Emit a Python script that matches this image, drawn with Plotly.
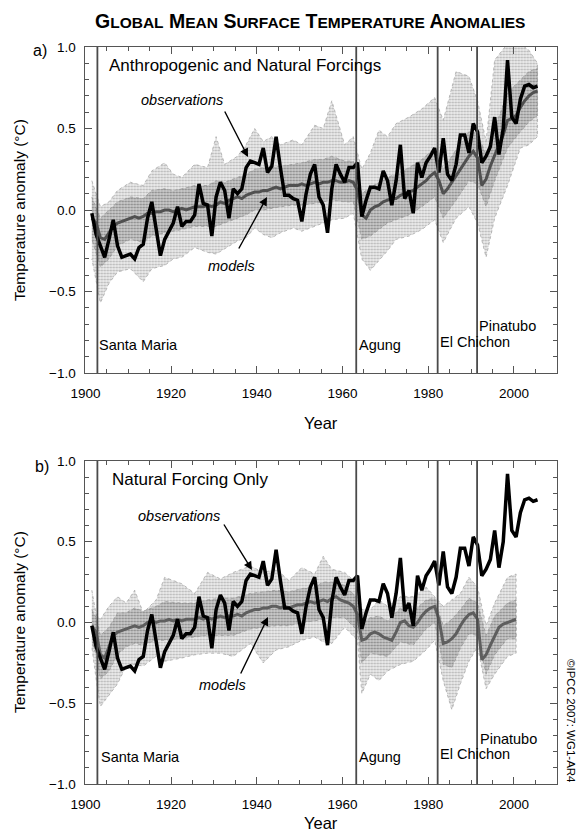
import plotly.graph_objects as go

W, H = 582, 832

# ---------------- data ----------------
obs_years = list(range(1901, 2006))
obs = [-0.02, -0.15, -0.22, -0.29, -0.18, -0.06, -0.22, -0.29, -0.28, -0.27,
       -0.30, -0.23, -0.21, -0.05, 0.05, -0.12, -0.28, -0.18, -0.13, -0.08,
       0.02, -0.10, -0.07, -0.07, -0.03, 0.16, 0.04, 0.03, -0.16, 0.08,
       0.17, 0.12, -0.05, 0.13, 0.10, 0.13, 0.26, 0.30, 0.29, 0.28,
       0.38, 0.23, 0.27, 0.45, 0.26, 0.09, 0.09, 0.07, 0.06, -0.07,
       0.10, 0.22, 0.28, 0.08, 0.03, -0.14, 0.13, 0.28, 0.22, 0.17,
       0.26, 0.26, 0.29, -0.04, 0.06, 0.14, 0.14, 0.13, 0.24, 0.18,
       0.03, 0.18, 0.40, 0.07, 0.12, -0.02, 0.29, 0.20, 0.29, 0.33,
       0.38, 0.23, 0.44, 0.22, 0.18, 0.28, 0.46, 0.46, 0.35, 0.53,
       0.48, 0.29, 0.33, 0.39, 0.57, 0.34, 0.50, 0.92, 0.57, 0.53,
       0.68, 0.76, 0.77, 0.75, 0.76]

all_years = list(range(1901, 2006))
all_mean = [-0.05, -0.08, -0.17, -0.18, -0.14, -0.10, -0.08, -0.07, -0.06, -0.05,
            -0.04, -0.05, -0.04, -0.02, -0.02, -0.01, -0.01, 0.00, 0.00, -0.01,
            0.00, 0.01, 0.00, 0.01, 0.02, 0.02, 0.02, 0.03, 0.02, 0.03,
            0.05, 0.04, 0.06, 0.07, 0.08, 0.07, 0.09, 0.10, 0.11, 0.11,
            0.12, 0.12, 0.13, 0.14, 0.13, 0.14, 0.15, 0.15, 0.15, 0.16,
            0.15, 0.16, 0.17, 0.16, 0.17, 0.17, 0.18, 0.18, 0.17, 0.17,
            0.18, 0.17, 0.12, -0.03, -0.05, 0.00, 0.02, 0.03, 0.05, 0.06,
            0.07, 0.07, 0.09, 0.10, 0.11, 0.12, 0.14, 0.16, 0.18, 0.21,
            0.23, 0.18, 0.10, 0.13, 0.17, 0.21, 0.25, 0.29, 0.33, 0.36,
            0.32, 0.15, 0.19, 0.27, 0.34, 0.40, 0.46, 0.55, 0.56, 0.58,
            0.63, 0.67, 0.70, 0.72, 0.73]

all_env_years = [1901, 1903, 1905, 1907, 1910, 1913, 1915, 1918, 1920, 1922,
                 1925, 1928, 1930, 1932, 1935, 1937, 1939, 1941, 1943, 1945,
                 1948, 1950, 1953, 1955, 1957, 1960, 1962, 1964, 1966, 1968,
                 1970, 1972, 1975, 1978, 1981, 1983, 1986, 1989, 1991, 1993,
                 1995, 1998, 2001, 2003, 2005]
all_upper = [0.18, 0.02, 0.05, 0.12, 0.17, 0.15, 0.24, 0.29, 0.22, 0.20,
             0.28, 0.26, 0.45, 0.28, 0.33, 0.40, 0.50, 0.42, 0.45, 0.40,
             0.43, 0.40, 0.52, 0.50, 0.67, 0.40, 0.45, 0.25, 0.35, 0.49,
             0.45, 0.53, 0.57, 0.62, 0.69, 0.55, 0.85, 0.82, 0.67, 0.42,
             0.92, 1.02, 1.02, 0.98, 0.90]
all_lower = [-0.30, -0.57, -0.45, -0.38, -0.36, -0.44, -0.36, -0.34, -0.30, -0.29,
             -0.23, -0.26, -0.27, -0.24, -0.19, -0.17, -0.11, -0.15, -0.17, -0.14,
             -0.11, -0.13, -0.10, -0.08, -0.06, -0.05, -0.02, -0.30, -0.37, -0.31,
             -0.25, -0.18, -0.16, -0.12, -0.06, -0.20, -0.05, 0.02, -0.08, -0.29,
             -0.05, 0.15, 0.38, 0.40, 0.45]
all_core_upper = [0.08, -0.05, 0.00, 0.05, 0.08, 0.07, 0.12, 0.13, 0.12, 0.13,
                  0.15, 0.15, 0.18, 0.17, 0.20, 0.22, 0.25, 0.26, 0.26, 0.27,
                  0.28, 0.29, 0.31, 0.31, 0.33, 0.30, 0.30, 0.10, 0.14, 0.17,
                  0.20, 0.22, 0.26, 0.31, 0.38, 0.25, 0.37, 0.48, 0.47, 0.34,
                  0.50, 0.72, 0.80, 0.85, 0.87]
all_core_lower = [-0.18, -0.35, -0.30, -0.22, -0.18, -0.20, -0.16, -0.14, -0.13, -0.12,
                  -0.10, -0.10, -0.10, -0.08, -0.05, -0.03, 0.00, 0.00, 0.01, 0.02,
                  0.03, 0.03, 0.04, 0.05, 0.06, 0.05, 0.05, -0.18, -0.16, -0.12,
                  -0.08, -0.06, -0.03, 0.02, 0.08, -0.05, 0.06, 0.18, 0.16, 0.02,
                  0.18, 0.38, 0.48, 0.54, 0.58]

nat_years = list(range(1901, 2001))
nat_mean = [-0.02, -0.06, -0.20, -0.22, -0.15, -0.08, -0.06, -0.05, -0.04, -0.03,
            -0.02, -0.03, -0.02, 0.00, 0.01, 0.00, 0.01, 0.01, 0.02, 0.01,
            0.02, 0.01, 0.02, 0.02, 0.02, 0.03, 0.02, 0.03, 0.02, 0.03,
            0.04, 0.03, 0.04, 0.04, 0.05, 0.04, 0.06, 0.07, 0.08, 0.08,
            0.09, 0.09, 0.10, 0.10, 0.09, 0.10, 0.09, 0.10, 0.11, 0.11,
            0.12, 0.13, 0.12, 0.13, 0.14, 0.13, 0.15, 0.16, 0.14, 0.13,
            0.12, 0.10, 0.05, -0.11, -0.10, -0.07, -0.06, -0.07, -0.09, -0.10,
            -0.11, -0.06, 0.00, 0.01, -0.02, -0.03, 0.00, 0.04, 0.07, 0.09,
            0.10, 0.02, -0.13, -0.12, -0.10, -0.07, -0.02, 0.02, 0.05, 0.06,
            0.02, -0.23, -0.20, -0.14, -0.08, -0.03, -0.01, 0.00, 0.01, 0.02]

nat_env_years = [1901, 1902, 1903, 1905, 1907, 1909, 1911, 1913, 1916, 1918,
                 1922, 1925, 1928, 1931, 1934, 1938, 1941, 1944, 1947, 1950,
                 1953, 1955, 1957, 1960, 1963, 1964, 1966, 1968, 1970, 1973,
                 1976, 1979, 1981, 1983, 1985, 1987, 1989, 1991, 1993, 1995,
                 1998, 2000]
nat_upper = [0.20, 0.05, 0.02, 0.10, 0.16, 0.12, 0.20, 0.06, 0.14, 0.28,
             0.24, 0.18, 0.31, 0.27, 0.31, 0.35, 0.31, 0.33, 0.26, 0.34,
             0.30, 0.41, 0.33, 0.31, 0.24, 0.08, 0.08, 0.14, 0.10, 0.16,
             0.16, 0.22, 0.16, 0.10, 0.14, 0.18, 0.28, 0.22, -0.02, 0.12,
             0.28, 0.30]
nat_lower = [-0.15, -0.35, -0.52, -0.45, -0.38, -0.27, -0.26, -0.27, -0.21, -0.24,
             -0.22, -0.20, -0.19, -0.19, -0.21, -0.13, -0.25, -0.17, -0.15, -0.11,
             -0.09, -0.12, -0.13, -0.03, -0.11, -0.44, -0.32, -0.36, -0.30, -0.26,
             -0.24, -0.17, -0.11, -0.36, -0.54, -0.38, -0.24, -0.15, -0.41, -0.32,
             -0.21, -0.19]
nat_core_upper = [0.08, 0.03, -0.08, -0.03, 0.06, 0.06, 0.09, 0.07, 0.10, 0.13,
                  0.12, 0.12, 0.14, 0.15, 0.15, 0.18, 0.19, 0.20, 0.19, 0.21,
                  0.22, 0.25, 0.25, 0.23, 0.15, 0.00, 0.03, 0.04, 0.01, 0.09,
                  0.07, 0.14, 0.15, -0.02, 0.02, 0.08, 0.15, 0.12, -0.08, 0.04,
                  0.12, 0.14]
nat_core_lower = [-0.12, -0.20, -0.35, -0.30, -0.20, -0.15, -0.13, -0.14, -0.11, -0.11,
                  -0.10, -0.09, -0.08, -0.08, -0.08, -0.04, -0.03, -0.02, -0.02, 0.00,
                  0.01, 0.02, 0.03, 0.03, -0.05, -0.25, -0.19, -0.20, -0.21, -0.12,
                  -0.14, -0.04, 0.00, -0.26, -0.28, -0.16, -0.07, -0.08, -0.32, -0.20,
                  -0.10, -0.10]

volcano_names = ["Santa Maria", "Agung", "El Chichon", "Pinatubo"]
volcano_years = [1902.8, 1963.2, 1982.2, 1991.4]

x_ticks = [1900, 1920, 1940, 1960, 1980, 2000]
y_ticks = [-1.0, -0.5, 0.0, 0.5, 1.0]

MID = 0.5  # annual values centred mid-year

# ---------------- helpers ----------------
def px(x):
    return x / W

def py(y):
    return 1 - y / H

FONT = "Liberation Sans, Arial, Helvetica, sans-serif"
fig = go.Figure()

def band(xa, ya, years, upper, lower, bg, fg, edge):
    ex = [v + MID for v in years]
    fig.add_trace(go.Scatter(
        x=ex + ex[::-1], y=upper + lower[::-1], fill="toself",
        xaxis=xa, yaxis=ya, mode="lines",
        line=dict(color=edge, width=0.8, dash="dot"),
        fillcolor=bg,
        fillpattern=dict(shape=".", fgcolor=fg, bgcolor=bg, size=3, solidity=0.4),
        hoverinfo="skip", showlegend=False))

def add_panel(xa, ya, env_years, upper, lower, cu, cl, mean_years, mean, mean_color):
    band(xa, ya, env_years, upper, lower, "#eeeeee", "#b4b4b4", "#a8a8a8")
    band(xa, ya, env_years, cu, cl, "#cdcdcd", "#858585", "#999999")
    fig.add_trace(go.Scatter(
        x=[v + MID for v in mean_years], y=mean, xaxis=xa, yaxis=ya, mode="lines",
        line=dict(color=mean_color, width=3), showlegend=False))
    fig.add_trace(go.Scatter(
        x=[v + MID for v in obs_years], y=obs, xaxis=xa, yaxis=ya, mode="lines",
        line=dict(color="black", width=3.5), showlegend=False))

add_panel("x", "y", all_env_years, all_upper, all_lower, all_core_upper, all_core_lower,
          all_years, all_mean, "#505050")
add_panel("x2", "y2", nat_env_years, nat_upper, nat_lower, nat_core_upper, nat_core_lower,
          nat_years, nat_mean, "#5e5e5e")

x_dom = [px(85.4), px(556.8)]
top_dom = [py(373), py(47)]
bot_dom = [py(784), py(461)]

axis_common = dict(showline=True, linecolor="#555", linewidth=1, mirror="allticks",
                   ticks="inside", tickcolor="#555", showgrid=False, zeroline=False,
                   automargin=False,
                   tickfont=dict(family=FONT, size=13.5, color="black"))

xa = dict(axis_common, range=[1900, 2010], tickvals=x_ticks, ticklen=7,
          ticklabelstandoff=8,
          minor=dict(dtick=5, tick0=1900, ticks="inside", ticklen=4, tickcolor="#555"))
ya = dict(axis_common, range=[-1, 1], tickvals=y_ticks, tickformat=".1f", ticklen=7,
          ticklabelstandoff=6,
          minor=dict(dtick=0.1, tick0=-1, ticks="inside", ticklen=4, tickcolor="#555"))

fig.update_layout(
    template="none",
    width=W, height=H, margin=dict(l=0, r=0, t=0, b=0, autoexpand=False),
    paper_bgcolor="white", plot_bgcolor="white",
    xaxis=dict(xa, domain=x_dom, anchor="y"),
    yaxis=dict(ya, domain=top_dom, anchor="x"),
    xaxis2=dict(xa, domain=x_dom, anchor="y2"),
    yaxis2=dict(ya, domain=bot_dom, anchor="x2"),
)

shapes = []
for xr, yr in (("x", "y"), ("x2", "y2")):
    for vy in volcano_years:
        shapes.append(dict(type="line", xref=xr, yref=yr + " domain", x0=vy, x1=vy,
                           y0=0, y1=1, line=dict(color="#4a4a4a", width=1.8)))
fig.update_layout(shapes=shapes)

ann = []
def text(x, y, s, size=14.5, xanchor="left", yanchor="middle", angle=0):
    ann.append(dict(x=px(x), y=py(y), xref="paper", yref="paper", text=s,
                    showarrow=False, xanchor=xanchor, yanchor=yanchor, textangle=angle,
                    font=dict(family=FONT, size=size, color="black")))

# title with small caps
def smallcaps(word, small=15.5):
    return word[0] + '<span style="font-size:%spx">%s</span>' % (small, word[1:])
title = " ".join(smallcaps(w) for w in ["GLOBAL", "MEAN", "SURFACE", "TEMPERATURE", "ANOMALIES"])
text(310, 21, "<b>" + title + "</b>", size=19.5, xanchor="center")

# panel letters
text(31, 50, "a)", size=16)
text(33, 467, "b)", size=16)

# panel captions
text(107, 65, "Anthropogenic and Natural Forcings", size=17)
text(110, 479, "Natural Forcing Only", size=17)

# axis titles
for yc in (210, 622):
    text(19, yc, "Temperature anomaly (°C)", size=15.5, xanchor="center", angle=-90)
text(321, 423, "Year", size=16.5, xanchor="center")
text(321, 823, "Year", size=16.5, xanchor="center")

# volcano labels
top_lab = [(97, 345), (357, 345), (438, 342), (477, 326)]
bot_lab = [(99, 757), (357, 757), (438, 754), (478, 739)]
for (name, (lx, ly), (bx, by)) in zip(volcano_names, top_lab, bot_lab):
    text(lx, ly, name, size=14.5)
    text(bx, by, name, size=14.5)

# copyright
text(571, 721, "©IPCC 2007: WG1-AR4", size=11.5, xanchor="center", angle=90)

# observations / models labels
text(182, 100, "<i>observations</i>", xanchor="center")
text(231, 266, "<i>models</i>", xanchor="center")
text(179, 516, "<i>observations</i>", xanchor="center")
text(222, 685, "<i>models</i>", xanchor="center")

for (tx, ty, hx, hy) in [(224, 110, 248, 157), (238, 250, 267, 197),
                         (223, 523, 252, 570), (240, 675, 268, 617)]:
    ann.append(dict(x=px(hx), y=py(hy), xref="paper", yref="paper", ax=tx - hx, ay=ty - hy,
                    axref="pixel", ayref="pixel", text="", showarrow=True,
                    arrowhead=2, arrowsize=1.2, arrowwidth=1.4, arrowcolor="black"))

fig.update_layout(annotations=ann)
fig.write_html("out.html", config={"displayModeBar": False},
               post_script="document.body.style.margin='0';document.body.style.overflow='hidden';")
